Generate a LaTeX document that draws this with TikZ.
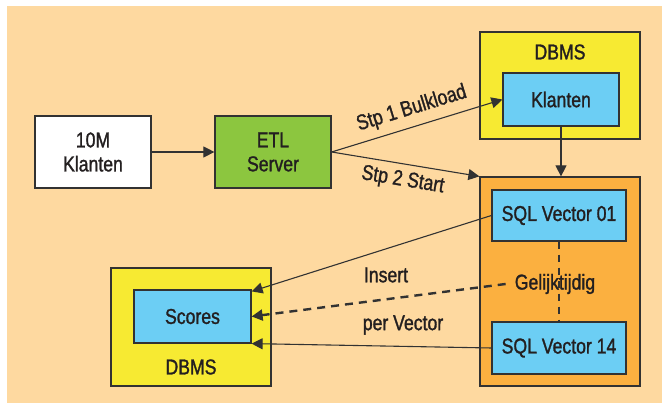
\documentclass[tikz,border=0pt]{standalone}
\usepackage{fontspec}
\setmainfont{Liberation Sans}[FakeStretch=0.82, RawFeature={embolden=1.3}]
\usepackage{xcolor}
\usetikzlibrary{arrows.meta}
\definecolor{beige}{RGB}{254,217,160}
\definecolor{dbyellow}{RGB}{247,234,50}
\definecolor{tblblue}{RGB}{108,206,244}
\definecolor{etlgreen}{RGB}{140,198,63}
\definecolor{vecorange}{RGB}{251,176,64}
\definecolor{inkgray}{RGB}{50,50,50}
\definecolor{txt}{RGB}{35,31,32}

\begin{document}
\begin{tikzpicture}[x=1pt,y=1pt,
    font=\fontsize{21.5}{24}\selectfont, text=txt,
    box/.style={draw=inkgray, line width=1.2pt, align=center, inner sep=0pt,
      minimum width=116pt, minimum height=53pt},
    frame/.style={draw=inkgray, line width=1.2pt, inner sep=0pt, minimum width=160pt},
    link/.style={draw=inkgray, line width=1.1pt, -{Triangle[length=11pt,width=11pt]}}]
    \useasboundingbox (0,0) rectangle (662,403);
    \fill[beige] (7,0) rectangle (662,397);

    % outer frames
    \node[frame, fill=dbyellow, minimum height=107pt] (dbtop) at (560,317.5) {};
    \node at (560,351) {DBMS};
    \node[frame, fill=vecorange, minimum height=209pt] (orange) at (560,121.5) {};
    \node[frame, fill=dbyellow, minimum height=118pt] (dbbot) at (191,76) {};
    \node at (191,36) {DBMS};

    % inner boxes
    \node[box, fill=white, minimum height=72pt] (ten) at (93,251) {10M\\Klanten};
    \node[box, fill=etlgreen, minimum height=72pt] (etl) at (273,251) {ETL\\Server};
    \node[box, fill=tblblue] (klanten) at (561,303.5) {Klanten};
    \node[box, fill=tblblue, minimum width=134pt, minimum height=51pt] (v01) at (559,187.5) {SQL Vector 01};
    \node[box, fill=tblblue, minimum width=134pt, minimum height=52pt] (v14) at (559,55) {SQL Vector 14};
    \node[box, fill=tblblue, minimum width=117pt] (scores) at (192.5,86.5) {Scores};

    % parallel marker
    \draw[inkgray, line width=2pt, dash pattern=on 7pt off 6pt] (v01.south) -- (v14.north);
    \node[inner xsep=9pt] (gelijk) at (555,119) {Gelijktijdig};

    % connectors
    \draw[link] (ten.east) -- (etl.west);
    \draw[link] (etl.east) -- (klanten.west)
      node[midway, above=4pt, sloped] {Stp 1 Bulkload};
    \draw[link] (etl.east) -- (orange.north west)
      node[midway, below=3pt, sloped] {Stp 2 Start};
    \draw[link] (klanten.south) -- (klanten.south |- orange.north);
    \draw[link] (v01.west) -- ([yshift=-2pt]scores.north east);
    \draw[link, line width=2.4pt, dash pattern=on 8pt off 6pt] (gelijk.west) -- (scores.east);
    \draw[link] (v14.west) -- (scores.south east);
    \node at (386,128) {Insert};
    \node at (403,78) {per Vector};
\end{tikzpicture}
\end{document}
